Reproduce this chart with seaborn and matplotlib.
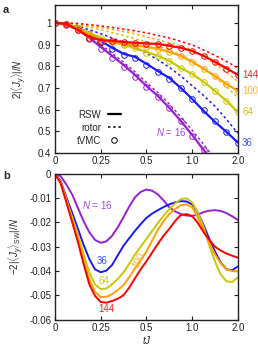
import numpy as np
import pandas as pd
import matplotlib
matplotlib.use('Agg')
import matplotlib.pyplot as plt
import seaborn as sns
from matplotlib.lines import Line2D

sns.set_style('ticks')
plt.rcParams['font.family'] = ['Liberation Sans', 'DejaVu Sans']
plt.rcParams['mathtext.fontset'] = 'custom'
plt.rcParams['mathtext.rm'] = 'Liberation Sans'
plt.rcParams['mathtext.it'] = 'Liberation Sans:italic'

# ─────────────────────────────────────────────
# data
# ─────────────────────────────────────────────
N_VALUES = [16, 36, 64, 100, 144]
COLORS = ['#9a1ed6', '#1a1aff', '#c8c800', '#ffa200', '#ff0000']
LABEL_COLORS = ['#a444e0', '#3a4cff', '#c8c800', '#ffb030', '#ff2020']

# time grid (t J) for panel a
T = [0, 0.0625, 0.125, 0.1875, 0.25, 0.3125, 0.375, 0.4375, 0.5,
     0.625, 0.75, 0.875, 1.0, 1.25, 1.5, 1.75, 2.0]

# finer time grid for panel b
T_B = [0, 0.03125, 0.0625, 0.09375, 0.125, 0.15625, 0.1875, 0.21875, 0.25,
       0.28125, 0.3125, 0.34375, 0.375, 0.40625, 0.4375, 0.46875, 0.5,
       0.5625, 0.625, 0.6875, 0.75, 0.8125, 0.875, 0.9375, 1.0,
       1.125, 1.25, 1.375, 1.5, 1.625, 1.75, 1.875, 2.0]

# panel a: 2|<J_y>|/N
rsw = {
    16:  [1.0, 0.991, 0.968, 0.931, 0.889, 0.848, 0.806, 0.760, 0.709,
          0.663, 0.608, 0.548, 0.483, 0.414, 0.35, 0.29, 0.23],
    36:  [1.0, 0.995, 0.977, 0.954, 0.917, 0.885, 0.857, 0.843, 0.811,
          0.778, 0.746, 0.700, 0.649, 0.594, 0.543, 0.497, 0.448],
    64:  [1.0, 0.995, 0.977, 0.954, 0.931, 0.912, 0.898, 0.885, 0.866,
          0.848, 0.825, 0.792, 0.765, 0.728, 0.686, 0.640, 0.589],
    100: [1.0, 0.995, 0.972, 0.945, 0.918, 0.912, 0.905, 0.897, 0.889,
          0.880, 0.866, 0.848, 0.820, 0.788, 0.755, 0.718, 0.686],
    144: [1.0, 0.995, 0.968, 0.935, 0.920, 0.917, 0.912, 0.908, 0.905,
          0.903, 0.894, 0.885, 0.870, 0.848, 0.820, 0.790, 0.760],
}
rotor = {
    16:  [1.0, 0.993, 0.973, 0.940, 0.900, 0.860, 0.818, 0.774, 0.725,
          0.678, 0.625, 0.567, 0.505, 0.440, 0.370, 0.30, 0.24],
    36:  [1.0, 0.996, 0.985, 0.968, 0.950, 0.930, 0.910, 0.885, 0.860,
          0.830, 0.795, 0.755, 0.710, 0.665, 0.615, 0.555, 0.490],
    64:  [1.0, 0.997, 0.990, 0.980, 0.968, 0.955, 0.942, 0.927, 0.912,
          0.895, 0.875, 0.852, 0.825, 0.790, 0.750, 0.705, 0.655],
    100: [1.0, 0.998, 0.994, 0.987, 0.979, 0.970, 0.960, 0.950, 0.935,
          0.922, 0.908, 0.893, 0.875, 0.845, 0.810, 0.772, 0.730],
    144: [1.0, 0.999, 0.997, 0.992, 0.986, 0.979, 0.971, 0.963, 0.954,
          0.942, 0.930, 0.915, 0.898, 0.875, 0.850, 0.822, 0.792],
}
tvmc = {
    16:  [1.0, 0.990, 0.965, 0.925, 0.880, 0.838, 0.796, 0.752, 0.703,
          0.658, 0.605, 0.545, 0.480, 0.412, 0.35, 0.29, 0.23],
    36:  [1.0, 0.994, 0.975, 0.948, 0.912, 0.880, 0.853, 0.836, 0.806,
          0.774, 0.742, 0.698, 0.647, 0.596, 0.546, 0.495, 0.445],
    64:  [1.0, 0.994, 0.975, 0.950, 0.928, 0.910, 0.896, 0.882, 0.863,
          0.845, 0.822, 0.790, 0.762, 0.726, 0.684, 0.638, 0.587],
    100: [1.0, 0.994, 0.970, 0.942, 0.916, 0.910, 0.903, 0.895, 0.887,
          0.878, 0.864, 0.846, 0.818, 0.786, 0.753, 0.716, 0.684],
    144: [1.0, 0.994, 0.966, 0.932, 0.918, 0.915, 0.910, 0.906, 0.903,
          0.901, 0.892, 0.883, 0.868, 0.846, 0.818, 0.788, 0.758],
}

# panel b: -2|<J_y>_SW|/N
sw = {
    16:  [0.0, -0.0010, -0.0045, -0.0085, -0.0140, -0.0195, -0.0240, -0.0272, -0.0284,
          -0.0278, -0.0255, -0.0220, -0.0178, -0.0135, -0.0097, -0.0075, -0.0065,
          -0.0070, -0.0085, -0.0110, -0.0138, -0.0155, -0.0166, -0.0172, -0.0174,
          -0.0168, -0.0158, -0.0152, -0.0150, -0.0153, -0.0162, -0.0175, -0.0190],
    36:  [0.0, -0.0030, -0.0097, -0.0160, -0.0225, -0.0292, -0.0350, -0.0393, -0.0405,
          -0.0398, -0.0375, -0.0335, -0.0296, -0.0265, -0.0235, -0.0207, -0.0182,
          -0.0164, -0.0150, -0.0137, -0.0126, -0.0118, -0.0113, -0.0114, -0.0126,
          -0.0160, -0.0211, -0.0268, -0.0320, -0.0365, -0.0393, -0.0397, -0.0381],
    64:  [0.0, -0.0035, -0.0105, -0.0178, -0.0251, -0.0330, -0.0405, -0.0455, -0.0474,
          -0.0472, -0.0454, -0.0432, -0.0405, -0.0370, -0.0332, -0.0300, -0.0268,
          -0.0235, -0.0203, -0.0173, -0.0146, -0.0123, -0.0105, -0.0101, -0.0118,
          -0.0160, -0.0219, -0.0295, -0.0361, -0.0415, -0.0442, -0.0445, -0.0426],
    100: [0.0, -0.0038, -0.0112, -0.0190, -0.0268, -0.0355, -0.0434, -0.0485, -0.0507,
          -0.0506, -0.0495, -0.0478, -0.0458, -0.0425, -0.0389, -0.0355, -0.0320,
          -0.0275, -0.0231, -0.0195, -0.0166, -0.0145, -0.0130, -0.0126, -0.0138,
          -0.0180, -0.0231, -0.0285, -0.0332, -0.0368, -0.0393, -0.0400, -0.0401],
    144: [0.0, -0.0040, -0.0118, -0.0198, -0.0280, -0.0370, -0.0454, -0.0502, -0.0527,
          -0.0530, -0.0523, -0.0514, -0.0499, -0.0468, -0.0430, -0.0393, -0.0360,
          -0.0324, -0.0288, -0.0255, -0.0227, -0.0195, -0.0170, -0.0166, -0.0174,
          -0.0203, -0.0240, -0.0272, -0.0300, -0.0316, -0.0328, -0.0337, -0.0345],
}

X_TICKS = [0, 0.25, 0.5, 1.0, 2.0]
X_TICKLABELS = ['0', '0.25', '0.5', '1.0', '2.0']
YA_TICKS = [0.4, 0.5, 0.6, 0.7, 0.8, 0.9, 1.0]
YA_TICKLABELS = ['0.4', '0.5', '0.6', '0.7', '0.8', '0.9', '1']
YB_TICKS = [-0.06, -0.05, -0.04, -0.03, -0.02, -0.01, 0]
YB_TICKLABELS = ['-0.06', '-0.05', '-0.04', '-0.03', '-0.02', '-0.01', '0']

# piecewise axis: ticks 0, .25, .5, 1, 2 equally spaced
T_BREAKS = np.array([0, 0.25, 0.5, 1.0, 2.0])
U_BREAKS = np.array([0, 1, 2, 3, 4], dtype=float)


def fwd(t):
    return np.interp(t, T_BREAKS, U_BREAKS, left=-1, right=5)


def inv(u):
    return np.interp(u, U_BREAKS, T_BREAKS)


FS = 7


def style_axis(ax):
    ax.set_xscale('function', functions=(fwd, inv))
    ax.set_xlim(0, 2.0)
    ax.set_xticks(X_TICKS)
    ax.set_xticklabels(X_TICKLABELS)
    ax.minorticks_off()
    ax.tick_params(direction='in', top=True, right=True, length=3, width=0.8,
                   labelsize=FS, pad=2.5, colors='#222222')
    for sp in ax.spines.values():
        sp.set_linewidth(1.0)
        sp.set_color('#222222')
    ax.set_xlabel('')


fig = plt.figure(figsize=(2.58, 3.46), dpi=100)
ax_a = fig.add_axes([0.213, 0.558, 0.709, 0.428])
ax_b = fig.add_axes([0.213, 0.076, 0.709, 0.422])

# ─────────────────────────────────────────────
# panel a
# ─────────────────────────────────────────────
for n, c in zip(N_VALUES, COLORS):
    sns.lineplot(x=T, y=rotor[n], ax=ax_a, color=c, lw=1.1,
                 linestyle=(0, (1.6, 1.8)))
    sns.lineplot(x=T, y=tvmc[n], ax=ax_a, color=c, linestyle='none',
                 marker='o', markersize=4.0, markerfacecolor='none',
                 markeredgecolor=c, markeredgewidth=0.7)
    sns.lineplot(x=T, y=rsw[n], ax=ax_a, color=c, lw=1.6)

style_axis(ax_a)
ax_a.set_ylim(0.4, 1.083)
ax_a.set_yticks(YA_TICKS)
ax_a.set_yticklabels(YA_TICKLABELS)
ax_a.set_ylabel(r'$2|\langle J_y\rangle|/N$', fontsize=FS, labelpad=7)

for n, lc in zip(N_VALUES[1:], LABEL_COLORS[1:]):
    ax_a.annotate(str(n), xy=(2.0, rsw[n][-1]), xytext=(3, 0),
                  textcoords='offset points', ha='left', va='center',
                  fontsize=FS, color=lc, annotation_clip=False)
ax_a.text(0.77, 0.497, r'$N$ = 16', color=LABEL_COLORS[0], fontsize=FS,
          ha='center', va='center')

handles = [Line2D([], [], color='k', lw=1.6),
           Line2D([], [], color='k', lw=1.1, linestyle=(0, (1.6, 1.8))),
           Line2D([], [], color='k', linestyle='none', marker='o',
                  markersize=4.0, markerfacecolor='none', markeredgewidth=0.7)]
ax_a.legend(handles, ['RSW', 'rotor', 'tVMC'], markerfirst=False,
            frameon=False, fontsize=FS, loc='center',
            bbox_to_anchor=(0.24, 0.17), handlelength=1.3,
            handletextpad=0.7, labelspacing=0.3)

# ─────────────────────────────────────────────
# panel b
# ─────────────────────────────────────────────
for n, c in zip(N_VALUES, COLORS):
    sns.lineplot(x=T_B, y=sw[n], ax=ax_b, color=c, lw=1.4)

style_axis(ax_b)
ax_b.set_ylim(-0.06, 0)
ax_b.set_yticks(YB_TICKS)
ax_b.set_yticklabels(YB_TICKLABELS)
ax_b.set_ylabel(r'$-2|\langle J_y\rangle_{\rm SW}|/N$', fontsize=FS, labelpad=3)
ax_b.set_xlabel(r'$tJ$', fontsize=FS, labelpad=0.5)

ax_b.text(0.23, -0.013, r'$N$ = 16', color=LABEL_COLORS[0], fontsize=FS,
          ha='center', va='center')
ax_b.text(0.26, -0.0357, '36', color=LABEL_COLORS[1], fontsize=FS,
          ha='center', va='center')
ax_b.text(0.27, -0.0442, '64', color=LABEL_COLORS[2], fontsize=FS,
          ha='center', va='center')
ax_b.text(0.28, -0.0555, '144', color=LABEL_COLORS[4], fontsize=FS,
          ha='center', va='center')
ax_b.text(0.46, -0.0357, '100', color=LABEL_COLORS[3], fontsize=FS,
          ha='center', va='center', rotation=60)

fig.text(0.012, 0.985, 'a', fontsize=8, fontweight='bold', va='top')
fig.text(0.012, 0.505, 'b', fontsize=8, fontweight='bold', va='top')

fig.savefig('out.png', dpi=100)
